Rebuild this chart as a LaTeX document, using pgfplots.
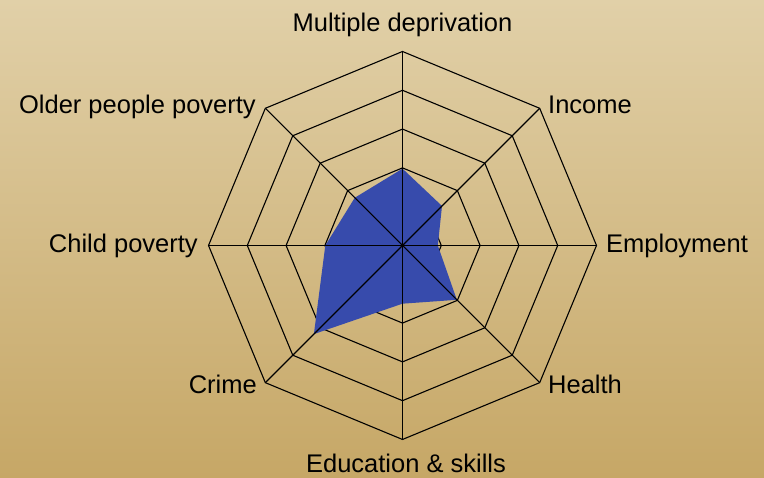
\documentclass[border=0pt]{standalone}
\usepackage{fontspec}
\setmainfont{Liberation Sans}
\usepackage{pgfplots}
\pgfplotsset{compat=1.18}

\definecolor{bgtop}{RGB}{225,208,168}
\definecolor{bgbot}{RGB}{198,167,102}
\definecolor{areablue}{RGB}{55,75,172}

\tikzset{lbl/.style={font=\fontsize{25.5}{30}\selectfont, inner sep=0pt}}

\begin{document}
\begin{tikzpicture}
\begin{axis}[
  name=ax,
  x=38.8pt, y=38.8pt,
  scale only axis,
  hide axis,
  xmin=-10.374, xmax=9.317,
  ymin=-5.992, ymax=6.327,
  clip=false,
  every axis plot/.append style={line width=1.1pt, data cs=polar},
]
% background
\fill[top color=bgtop, bottom color=bgbot, draw=none]
  (rel axis cs:0,0) rectangle (rel axis cs:1,1);

% rings
\foreach \r in {1,2,3,4,5} {
  \edef\temp{\noexpand\addplot[black, no markers] coordinates {
    (90,\r) (45,\r) (0,\r) (-45,\r) (-90,\r) (-135,\r) (180,\r) (135,\r) (90,\r)};}
  \temp
}

% series
\addplot[fill=areablue, draw=none, no markers] coordinates {
  (90,1.98) (45,1.44) (0,0.91) (-45,1.98) (-90,1.50) (-135,3.23) (180,1.99) (135,1.74)
} -- cycle;

% spokes
\addplot[black, no markers] coordinates {(90,5) (0,0) (-90,5)};
\addplot[black, no markers] coordinates {(0,5) (0,0) (180,5)};
\addplot[black, no markers] coordinates {(45,5) (0,0) (-135,5)};
\addplot[black, no markers] coordinates {(135,5) (0,0) (-45,5)};

% category labels
\node[lbl, anchor=base]      at (axis cs:0,5.515)       {Multiple deprivation};
\node[lbl, anchor=base west] at (axis cs:3.750,3.402)   {Income};
\node[lbl, anchor=base west] at (axis cs:5.245,-0.180)  {Employment};
\node[lbl, anchor=base west] at (axis cs:3.750,-3.814)  {Health};
\node[lbl, anchor=base]      at (axis cs:0.09,-5.86)    {Education \& skills};
\node[lbl, anchor=base east] at (axis cs:-3.750,-3.814) {Crime};
\node[lbl, anchor=base east] at (axis cs:-5.271,-0.180) {Child poverty};
\node[lbl, anchor=base east] at (axis cs:-3.776,3.402)  {Older people poverty};
\end{axis}
\pgfresetboundingbox
\path (ax.south west) rectangle (ax.north east);
\end{tikzpicture}
\end{document}
